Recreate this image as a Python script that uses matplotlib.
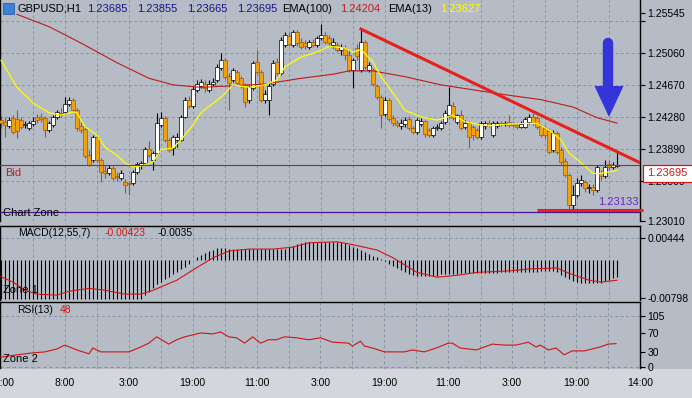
import matplotlib

matplotlib.use("Agg")
import matplotlib.pyplot as plt
import numpy as np
from matplotlib.patches import Polygon, Rectangle

# GBPUSD H1 candles, oldest first
opens = [
    1.2424, 1.2422, 1.2417, 1.2427, 1.2425, 1.2424, 1.2418, 1.2414, 1.2419, 1.2428,
    1.2428, 1.2427, 1.2412, 1.2418, 1.2428, 1.2433, 1.2434, 1.2444, 1.2449, 1.2436,
    1.2417, 1.2413, 1.2381, 1.2375, 1.2403, 1.2375, 1.2362, 1.2359, 1.2366, 1.2356,
    1.2353, 1.2348, 1.2347, 1.2347, 1.2361, 1.2369, 1.2372, 1.2389, 1.2375, 1.2384,
    1.2418, 1.2427, 1.2400, 1.2390, 1.2400, 1.2400, 1.2428, 1.2449, 1.2441, 1.2461,
    1.2466, 1.2468, 1.2461, 1.2468, 1.2473, 1.2488, 1.2497, 1.2478, 1.2473, 1.2483,
    1.2475, 1.2467, 1.2449, 1.2463, 1.2495, 1.2483, 1.2449, 1.2449, 1.2468, 1.2495,
    1.2481, 1.2516, 1.2527, 1.2516, 1.2531, 1.2519, 1.2518, 1.2513, 1.2519, 1.2516,
    1.2524, 1.2528, 1.2524, 1.2516, 1.2516, 1.2510, 1.2512, 1.2503, 1.2485, 1.2512,
    1.2485, 1.2519, 1.2485, 1.2485, 1.2466, 1.2452, 1.2431, 1.2449, 1.2427, 1.2420,
    1.2417, 1.2419, 1.2425, 1.2414, 1.2409, 1.2419, 1.2423, 1.2412, 1.2406, 1.2414,
    1.2414, 1.2422, 1.2430, 1.2441, 1.2422, 1.2430, 1.2416, 1.2420, 1.2416, 1.2412,
    1.2403, 1.2417, 1.2420, 1.2406, 1.2417, 1.2420, 1.2419, 1.2422, 1.2420, 1.2418,
    1.2416, 1.2416, 1.2422, 1.2428, 1.2427, 1.2417, 1.2414, 1.2411, 1.2388, 1.2408,
    1.2388, 1.2374, 1.2357, 1.2320, 1.2333, 1.2347, 1.2348, 1.2341, 1.2342, 1.2339,
    1.2359, 1.2356, 1.2370, 1.2367, 1.23685,
]
highs = [
    1.2429, 1.2428, 1.2428, 1.2430, 1.2436, 1.2428, 1.2423, 1.2423, 1.2428, 1.2431,
    1.2433, 1.2429, 1.2423, 1.2430, 1.2436, 1.2439, 1.2452, 1.2452, 1.2451, 1.2439,
    1.2422, 1.2417, 1.2388, 1.2406, 1.2406, 1.2378, 1.2369, 1.2369, 1.2368, 1.2361,
    1.2363, 1.2352, 1.2350, 1.2363, 1.2373, 1.2374, 1.2391, 1.2398, 1.2386, 1.2433,
    1.2434, 1.2429, 1.2402, 1.2406, 1.2408, 1.2430, 1.2452, 1.2453, 1.2466, 1.2473,
    1.2474, 1.2473, 1.2473, 1.2475, 1.2492, 1.2506, 1.2500, 1.2481, 1.2488, 1.2485,
    1.2478, 1.2469, 1.2467, 1.2496, 1.2510, 1.2485, 1.2461, 1.2469, 1.2497, 1.2500,
    1.2525, 1.2531, 1.2530, 1.2534, 1.2534, 1.2524, 1.2522, 1.2522, 1.2523, 1.2527,
    1.2541, 1.2531, 1.2528, 1.2524, 1.2519, 1.2517, 1.2516, 1.2510, 1.2500, 1.2517,
    1.2535, 1.2522, 1.2495, 1.2488, 1.2468, 1.2455, 1.2452, 1.2451, 1.2430, 1.2424,
    1.2425, 1.2428, 1.2429, 1.2417, 1.2427, 1.2427, 1.2424, 1.2414, 1.2417, 1.2419,
    1.2423, 1.2436, 1.2464, 1.2446, 1.2431, 1.2436, 1.2424, 1.2423, 1.2418, 1.2414,
    1.2423, 1.2423, 1.2424, 1.2423, 1.2423, 1.2423, 1.2423, 1.2430, 1.2423, 1.2422,
    1.2423, 1.2428, 1.2431, 1.2433, 1.2429, 1.2419, 1.2418, 1.2414, 1.2412, 1.2411,
    1.2391, 1.2378, 1.2359, 1.2345, 1.2353, 1.2357, 1.2351, 1.2346, 1.2346, 1.2369,
    1.2363, 1.2375, 1.2375, 1.2373, 1.23855,
]
lows = [
    1.2414, 1.2403, 1.2414, 1.2407, 1.2402, 1.2413, 1.2414, 1.2412, 1.2417, 1.2420,
    1.2422, 1.2403, 1.2409, 1.2416, 1.2425, 1.2428, 1.2431, 1.2441, 1.2434, 1.2411,
    1.2408, 1.2378, 1.2368, 1.2373, 1.2373, 1.2348, 1.2353, 1.2357, 1.2351, 1.2350,
    1.2351, 1.2335, 1.2333, 1.2345, 1.2358, 1.2364, 1.2369, 1.2379, 1.2363, 1.2381,
    1.2416, 1.2397, 1.2385, 1.2381, 1.2391, 1.2398, 1.2427, 1.2439, 1.2439, 1.2458,
    1.2463, 1.2458, 1.2458, 1.2466, 1.2470, 1.2485, 1.2474, 1.2436, 1.2470, 1.2467,
    1.2463, 1.2440, 1.2445, 1.2461, 1.2480, 1.2446, 1.2445, 1.2430, 1.2466, 1.2479,
    1.2479, 1.2513, 1.2514, 1.2513, 1.2514, 1.2511, 1.2511, 1.2511, 1.2513, 1.2513,
    1.2522, 1.2517, 1.2514, 1.2512, 1.2507, 1.2503, 1.2497, 1.2483, 1.2463, 1.2497,
    1.2483, 1.2486, 1.2483, 1.2466, 1.2450, 1.2414, 1.2429, 1.2423, 1.2417, 1.2416,
    1.2413, 1.2416, 1.2412, 1.2407, 1.2407, 1.2417, 1.2403, 1.2403, 1.2403, 1.2412,
    1.2412, 1.2419, 1.2428, 1.2424, 1.2419, 1.2412, 1.2413, 1.2390, 1.2400, 1.2401,
    1.2401, 1.2413, 1.2416, 1.2403, 1.2414, 1.2417, 1.2417, 1.2416, 1.2416, 1.2413,
    1.2414, 1.2414, 1.2419, 1.2418, 1.2413, 1.2403, 1.2402, 1.2383, 1.2385, 1.2383,
    1.2370, 1.2355, 1.23133, 1.2314, 1.2330, 1.2344, 1.2336, 1.2335, 1.2333, 1.2336,
    1.2351, 1.2353, 1.2363, 1.2364, 1.23665,
]
closes = [
    1.2420, 1.2418, 1.2424, 1.2409, 1.2411, 1.2416, 1.2419, 1.2420, 1.2423, 1.2424,
    1.2425, 1.2412, 1.2420, 1.2428, 1.2434, 1.2431, 1.2444, 1.2449, 1.2436, 1.2414,
    1.2412, 1.2380, 1.2369, 1.2403, 1.2375, 1.2361, 1.2359, 1.2366, 1.2353, 1.2355,
    1.2359, 1.2345, 1.2346, 1.2361, 1.2370, 1.2372, 1.2389, 1.2381, 1.2384, 1.2420,
    1.2427, 1.2400, 1.2388, 1.2403, 1.2403, 1.2428, 1.2449, 1.2441, 1.2462, 1.2468,
    1.2470, 1.2463, 1.2468, 1.2470, 1.2489, 1.2497, 1.2477, 1.2469, 1.2485, 1.2469,
    1.2467, 1.2446, 1.2464, 1.2494, 1.2483, 1.2449, 1.2456, 1.2466, 1.2494, 1.2481,
    1.2522, 1.2528, 1.2517, 1.2531, 1.2518, 1.2513, 1.2514, 1.2519, 1.2516, 1.2524,
    1.2528, 1.2519, 1.2518, 1.2519, 1.2510, 1.2513, 1.2503, 1.2485, 1.2497, 1.2502,
    1.2519, 1.2489, 1.2491, 1.2468, 1.2452, 1.2430, 1.2449, 1.2425, 1.2420, 1.2418,
    1.2420, 1.2424, 1.2414, 1.2409, 1.2424, 1.2423, 1.2407, 1.2406, 1.2414, 1.2416,
    1.2420, 1.2433, 1.2442, 1.2427, 1.2430, 1.2414, 1.2420, 1.2403, 1.2406, 1.2403,
    1.2420, 1.2420, 1.2418, 1.2420, 1.2420, 1.2419, 1.2420, 1.2418, 1.2418, 1.2416,
    1.2419, 1.2425, 1.2428, 1.2420, 1.2416, 1.2406, 1.2406, 1.2385, 1.2408, 1.2385,
    1.2373, 1.2357, 1.2320, 1.2333, 1.2347, 1.2351, 1.2341, 1.2342, 1.2339, 1.2367,
    1.2356, 1.2367, 1.2367, 1.2369, 1.23695,
]

# moving averages (bar index, price)
ema100_bars = [4, 12, 20, 29, 37, 43, 50, 58, 66, 75, 83, 87, 93, 101, 110, 118, 126, 135, 143, 149, 154]
ema100_vals = [1.2553, 1.2538, 1.2518, 1.2494, 1.2475, 1.2467, 1.2464, 1.2466, 1.2468, 1.2475, 1.2480,
               1.2484, 1.2484, 1.2477, 1.2467, 1.2461, 1.2455, 1.2449, 1.2440, 1.2427, 1.24204]
ema13_bars = [0, 4, 8, 12, 15, 18, 19, 21, 24, 26, 29, 31, 33, 35, 38, 40, 43, 45, 48, 50,
              55, 58, 62, 66, 69, 71, 75, 79, 82, 86, 88, 90, 93, 95, 98, 101, 105, 109, 111, 113,
              116, 120, 122, 126, 131, 134, 137, 140, 142, 145, 148, 150, 154]
ema13_vals = [1.2497, 1.2464, 1.2445, 1.2433, 1.2430, 1.2434, 1.2433, 1.2416, 1.2406, 1.2391,
              1.2381, 1.2372, 1.2367, 1.2368, 1.2373, 1.2388, 1.2390, 1.2400, 1.2418, 1.2433,
              1.2452, 1.2467, 1.2464, 1.2467, 1.2473, 1.2489, 1.2501, 1.2507, 1.2514, 1.2512,
              1.2507, 1.2510, 1.2495, 1.2477, 1.2457, 1.2436, 1.2428, 1.2424, 1.2427, 1.2430,
              1.2422, 1.2418, 1.2417, 1.2419, 1.2420, 1.2420, 1.2412, 1.2400, 1.2384, 1.2372,
              1.2359, 1.2359, 1.23627]

# MACD(12,55,7)
macd_hist = [
    -0.0080, -0.0080, -0.0080, -0.0080, -0.0080, -0.0080, -0.0080, -0.0080, -0.0080, -0.0080,
    -0.0080, -0.0080, -0.0080, -0.0080, -0.0080, -0.0080, -0.0080, -0.0080, -0.0080, -0.0080,
    -0.0080, -0.0080, -0.0080, -0.0080, -0.0080, -0.0080, -0.0080, -0.0080, -0.0080, -0.0080,
    -0.0080, -0.0080, -0.0080, -0.0080, -0.0080, -0.0080, -0.0072, -0.0066, -0.0058, -0.0050,
    -0.0045, -0.0040, -0.0036, -0.0030, -0.0025, -0.0020, -0.0015, -0.0008, 0.0000, 0.0006,
    0.0010, 0.0014, 0.0018, 0.0021, 0.0024, 0.0025, 0.0025, 0.0023, 0.0023, 0.0023,
    0.0023, 0.0023, 0.0023, 0.0023, 0.0023, 0.0023, 0.0023, 0.0023, 0.0023, 0.0023,
    0.0023, 0.0023, 0.0026, 0.0029, 0.0032, 0.0034, 0.0036, 0.0037, 0.0037, 0.0037,
    0.0037, 0.0037, 0.0037, 0.0037, 0.0037, 0.0036, 0.0034, 0.0031, 0.0027, 0.0024,
    0.0020, 0.0016, 0.0012, 0.0008, 0.0005, 0.0002, -0.0002, -0.0008, -0.0013, -0.0018,
    -0.0022, -0.0026, -0.0029, -0.0031, -0.0033, -0.0034, -0.0034, -0.0034, -0.0034, -0.0034,
    -0.0030, -0.0030, -0.0030, -0.0030, -0.0030, -0.0028, -0.0028, -0.0028, -0.0028, -0.0028,
    -0.0028, -0.0028, -0.0028, -0.0028, -0.0028, -0.0025, -0.0025, -0.0025, -0.0025, -0.0025,
    -0.0025, -0.0025, -0.0025, -0.0025, -0.0025, -0.0023, -0.0023, -0.0023, -0.0023, -0.0026,
    -0.0032, -0.0036, -0.0040, -0.0043, -0.0045, -0.0047, -0.0047, -0.0047, -0.0047, -0.0047,
    -0.0047, -0.0044, -0.0041, -0.0038, -0.0035,
]
macd_sig_bars = [0, 3, 6, 9, 14, 17, 22, 26, 31, 35, 38, 44, 48, 53, 57, 62, 68, 73, 77, 84,
                 88, 94, 98, 104, 109, 114, 119, 127, 132, 139, 142, 147, 150, 154]
macd_sig_vals = [-0.0035, -0.0046, -0.0063, -0.0071, -0.0073, -0.0065, -0.0059, -0.0063, -0.0071, -0.0071,
                 -0.0063, -0.0042, -0.0021, 0.0004, 0.0018, 0.0022, 0.0022, 0.0026, 0.0035, 0.0037,
                 0.0031, 0.0020, 0.0004, -0.0026, -0.0036, -0.0032, -0.0026, -0.0023, -0.0019, -0.0017,
                 -0.0028, -0.0042, -0.0046, -0.00423]

# RSI(13)
rsi_bars = [0, 4, 8, 11, 14, 16, 19, 22, 23, 25, 28, 32, 35, 37, 39, 42, 44, 46, 48, 50,
            53, 55, 57, 59, 61, 63, 65, 67, 69, 71, 74, 77, 80, 83, 87, 88, 90, 91, 93, 96,
            98, 101, 103, 106, 109, 112, 113, 115, 119, 121, 123, 126, 129, 132, 134, 135, 137, 139, 141, 143,
            146, 150, 152, 154]
rsi_vals = [20, 25, 29, 31, 37, 45, 35, 27, 39, 31, 31, 31, 41, 49, 62, 47, 56, 62, 66, 70,
            68, 72, 62, 60, 49, 62, 49, 56, 56, 62, 60, 56, 60, 51, 49, 43, 53, 43, 39, 31,
            31, 31, 35, 31, 39, 49, 49, 39, 35, 41, 47, 45, 45, 51, 41, 45, 35, 39, 25, 33,
            33, 41, 47, 48]

time_ticks = [0, 16, 32, 48, 64, 80, 96, 112, 128, 144, 160]
time_labels = ["16:00", "8:00", "3:00", "19:00", "11:00", "3:00", "19:00", "11:00", "3:00", "19:00", "14:00"]

price_grid = [1.2545, 1.2506, 1.2467, 1.2428, 1.2389, 1.2350]
price_ticks = [1.25545, 1.2545, 1.2506, 1.2467, 1.2428, 1.2389, 1.2350, 1.2301]
price_labels = ["1.25545", "", "1.25060", "1.24670", "1.24280", "1.23890", "1.23500", "1.23010"]
zone_level = 1.23115
support_level = 1.2315

BG = "#b5bcc6"
GRID = "#8794a6"
W, H = 692, 398

plt.rcParams["font.family"] = ["Liberation Sans", "DejaVu Sans"]
plt.rcParams["font.size"] = 7.5


def fx(px):
    return px / W


def fy(py):
    return 1 - py / H


fig = plt.figure(figsize=(W / 100, H / 100), dpi=100, facecolor=BG)
fig.patches.append(Rectangle((0, 0), 1, fy(368.5), transform=fig.transFigure, fc="#d3d6db", ec="none", zorder=-5))

ax = fig.add_axes([0, fy(221), 640 / W, 221 / H])
ax_macd = fig.add_axes([0, fy(299.5), 640 / W, 73.5 / H])
ax_rsi = fig.add_axes([0, fy(368.5), 640 / W, 66.5 / H])

for a in (ax, ax_macd, ax_rsi):
    a.set_facecolor(BG)
    a.set_xlim(-0.25, 159.75)
    a.yaxis.tick_right()
    a.tick_params(axis="y", direction="out", length=3.5, width=0.8, pad=2, labelsize=7.5)
    for s in ("left", "right", "top", "bottom"):
        a.spines[s].set_color("black")
        a.spines[s].set_linewidth(1.0)
    for k in range(1, 20):
        a.axvline(k * 8, color=GRID, lw=0.7, ls=(0, (3, 2.5)), zorder=0.5)

ax.spines["top"].set_visible(False)
ax.spines["bottom"].set_visible(False)
ax_macd.spines["bottom"].set_visible(False)
ax_rsi.spines["bottom"].set_visible(False)
ax.set_xticks([])
ax_macd.set_xticks([])

# main price panel
ax.set_ylim(1.2301, 1.25705)
ax.set_yticks(price_ticks)
ax.set_yticklabels(price_labels)
for p in price_grid:
    ax.axhline(p, color=GRID, lw=0.7, ls=(0, (3, 2.5)), zorder=0.5)

o = np.array(opens)
c = np.array(closes)
idx = np.arange(len(c))
up = c >= o
ax.vlines(idx, lows, highs, colors=np.where(up, "black", "#a8560f"), lw=0.8, zorder=2)
bottoms = np.minimum(o, c)
heights = np.maximum(np.abs(c - o), 0.00004)
ax.bar(idx, heights, bottom=bottoms, width=0.78,
       color=np.where(up, "white", "#f0a10a"), edgecolor=np.where(up, "black", "#9c5a10"),
       linewidth=0.5, zorder=3)

ax.plot(ema100_bars, ema100_vals, color="#c01a1a", lw=0.8, zorder=4)
ax.plot(ema13_bars, ema13_vals, color="#ffff00", lw=0.9, zorder=4)

# trend line through the two swing highs, extended to the right edge
t0, t1 = 90, len(c) - 1
slope = (highs[t1] - highs[t0]) / (t1 - t0)
ax.plot([t0, 165], [highs[t0], highs[t0] + slope * (165 - t0)], color="#e8201c", lw=2.2, zorder=5)
ax.plot([134, 160.6], [support_level, support_level], color="#e8201c", lw=2.2, zorder=5,
        clip_on=False, solid_capstyle="butt")
ax.axhline(zone_level, color="#4a1490", lw=0.9, zorder=4)
ax.axhline(closes[-1], color="#9e2a2a", lw=0.8, zorder=4)

# blue arrow
ax.plot([608 / 640, 608 / 640], [1 - 43 / 221, 1 - 88 / 221], transform=ax.transAxes,
        color="#3434d8", lw=7.5, solid_capstyle="round", zorder=6)
ax.add_patch(Polygon([(594.5 / 640, 1 - 86 / 221), (623.5 / 640, 1 - 86 / 221), (609 / 640, 1 - 117 / 221)],
                     closed=True, transform=ax.transAxes, fc="#3434d8", ec="none", zorder=6))

# MACD panel
ax_macd.set_ylim(-0.0082, 0.00696)
ax_macd.set_yticks([0.00444, -0.00798])
ax_macd.set_yticklabels(["0.00444", "-0.00798"])
ax_macd.axhline(0.00444, color=GRID, lw=0.7, ls=(0, (3, 2.5)), zorder=0.5)
ax_macd.vlines(idx, 0, macd_hist, color="black", lw=0.8, zorder=2)
ax_macd.plot(macd_sig_bars, macd_sig_vals, color="#d01414", lw=0.8, zorder=3)

# RSI panel
ax_rsi.set_ylim(-3.2, 133.7)
ax_rsi.set_yticks([105, 70, 30, 0])
ax_rsi.axhline(105, color=GRID, lw=0.7, ls=(0, (3, 2.5)), zorder=0.5)
ax_rsi.axhline(0, color=GRID, lw=0.8, ls=(0, (3, 2.5)), zorder=0.5)
ax_rsi.plot(rsi_bars, rsi_vals, color="#d01414", lw=0.8, zorder=3)
ax_rsi.set_xticks(time_ticks)
ax_rsi.set_xticklabels(time_labels)
ax_rsi.tick_params(axis="x", length=0, pad=7, labelsize=7.5)

# header texts
fig.patches.append(Rectangle((fx(3), fy(14)), 11 / W, 11 / H, transform=fig.transFigure,
                             fc="#3b82d6", ec="#2a5ea8", lw=0.6, zorder=5))
fig.text(fx(8.5), fy(8.2), "\u2193", color="white", fontsize=7, fontweight="bold",
         ha="center", va="center", family="DejaVu Sans")
head = [(17, "GBPUSD,H1", "black"), (87, "1.23685", "#14148c"), (137, "1.23855", "#14148c"),
        (187, "1.23665", "#14148c"), (237, "1.23695", "#14148c"), (282, "EMA(100)", "black"),
        (340, "1.24204", "#c41c1c"), (388, "EMA(13)", "black"), (440, "1.23627", "#ffff00")]
for x, s, col in head:
    fig.text(fx(x), fy(8.5), s, color=col, fontsize=8, va="center")

fig.text(fx(18), fy(233), "MACD(12,55,7)", va="center")
fig.text(fx(105), fy(233), "-0.00423", color="#d01414", va="center")
fig.text(fx(158), fy(233), "-0.0035", va="center")
fig.text(fx(17), fy(310), "RSI(13)", va="center")
fig.text(fx(60), fy(310), "48", color="#d01414", va="center")

fig.text(fx(3), fy(213.5), "Chart Zone", fontsize=8, va="center")
fig.text(fx(3), fy(290), "Zone 1", fontsize=8, va="center")
fig.text(fx(3), fy(359), "Zone 2", fontsize=8, va="center")
fig.text(fx(5), fy(173), "Bid", color="#b02222", fontsize=8, va="center")
fig.text(fx(618.5), fy(202), "1.23133", color="#6a22c8", fontsize=8, ha="center", va="center")

# current price box
fig.patches.append(Rectangle((fx(643), fy(182)), 60 / W, 17 / H, transform=fig.transFigure,
                             fc="white", ec="#d01818", lw=0.9, zorder=6))
fig.text(fx(647), fy(173.5), "1.23695", color="#d01818", fontsize=8, va="center", zorder=7)

fig.savefig("out.png", dpi=100, facecolor=fig.get_facecolor())
